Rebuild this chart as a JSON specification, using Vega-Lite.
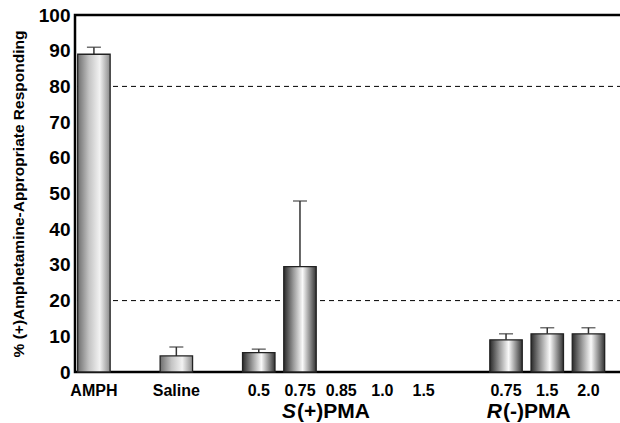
{
  "$schema": "https://vega.github.io/schema/vega-lite/v6.json",
  "autosize": "none",
  "width": 547,
  "height": 357,
  "padding": {"left": 75, "top": 15, "right": 0, "bottom": 51},
  "background": "white",
  "config": {
    "view": {"stroke": "black", "strokeWidth": 2.5},
    "font": "Liberation Sans"
  },
  "datasets": {
    "bars": [
      {"key": "AMPH", "value": 89, "upper": 91},
      {"key": "Saline", "value": 4.5, "upper": 7},
      {"key": "S0.5", "value": 5.4, "upper": 6.4},
      {"key": "S0.75", "value": 29.5, "upper": 47.9},
      {"key": "S0.85", "value": 0, "upper": null},
      {"key": "S1.0", "value": 0, "upper": null},
      {"key": "S1.5", "value": 0, "upper": null},
      {"key": "R0.75", "value": 9.0, "upper": 10.7},
      {"key": "R1.5", "value": 10.7, "upper": 12.4},
      {"key": "R2.0", "value": 10.7, "upper": 12.4}
    ],
    "refs": [{"ref": 20}, {"ref": 80}],
    "groups": [
      {"key": "S0.75", "part": "S", "rest": "(+)PMA"},
      {"key": "R0.75", "part": "R", "rest": "(-)PMA"}
    ]
  },
  "encoding": {
    "x": {
      "field": "key",
      "type": "nominal",
      "scale": {
        "domain": ["AMPH", "g1", "Saline", "g2", "S0.5", "S0.75", "S0.85", "S1.0", "S1.5", "g3", "R0.75", "R1.5", "R2.0"],
        "paddingInner": 0.213,
        "paddingOuter": 0.243,
        "align": 0.135
      },
      "axis": {
        "title": null,
        "domain": false,
        "ticks": false,
        "labelAngle": 0,
        "labelFont": "Liberation Sans",
        "labelFontWeight": "bold",
        "labelFontSize": 16,
        "labelColor": "black",
        "labelPadding": 10,
        "labelOverlap": false,
        "labelExpr": "substring(datum.value,0,1)=='g' ? '' : (datum.value=='AMPH' || datum.value=='Saline' ? datum.value : substring(datum.value,1))"
      }
    }
  },
  "layer": [
    {
      "data": {"name": "refs"},
      "mark": {"type": "rule", "color": "black", "strokeWidth": 1, "strokeDash": [5, 4]},
      "encoding": {
        "x": null,
        "y": {
          "field": "ref",
          "type": "quantitative",
          "scale": {"domain": [0, 100], "nice": false},
          "axis": {
            "title": "% (+)Amphetamine-Appropriate Responding",
            "titleFont": "Liberation Sans",
            "titleFontSize": 15.5,
            "titleFontWeight": "bold",
            "titleColor": "black",
            "titlePadding": 12,
            "values": [0, 10, 20, 30, 40, 50, 60, 70, 80, 90, 100],
            "tickCount": 11,
            "labelOverlap": false,
            "domain": false,
            "ticks": false,
            "grid": false,
            "labelFont": "Liberation Sans",
            "labelFontWeight": "bold",
            "labelFontSize": 19,
            "labelColor": "black",
            "labelPadding": 5
          }
        }
      }
    },
    {
      "data": {"name": "bars"},
      "transform": [{"filter": "datum.upper != null"}],
      "mark": {"type": "rule", "color": "#333", "strokeWidth": 1.5},
      "encoding": {
        "y": {"field": "value", "type": "quantitative"},
        "y2": {"field": "upper"}
      }
    },
    {
      "data": {"name": "bars"},
      "transform": [{"filter": "datum.upper != null"}],
      "mark": {"type": "tick", "color": "#333", "thickness": 1.5, "size": 14, "orient": "horizontal"},
      "encoding": {
        "y": {"field": "upper", "type": "quantitative"}
      }
    },
    {
      "data": {"name": "bars"},
      "transform": [{"filter": "(datum.key=='AMPH' || datum.key=='Saline') && datum.value > 0"}],
      "mark": {
        "type": "bar",
        "stroke": "#222",
        "strokeWidth": 1.3,
        "fill": {
          "gradient": "linear", "x1": 0, "y1": 0, "x2": 1, "y2": 0,
          "stops": [
            {"offset": 0, "color": "#6e6e6e"},
            {"offset": 0.35, "color": "#c4c4c4"},
            {"offset": 0.68, "color": "#f2f2f2"},
            {"offset": 1, "color": "#8a8a8a"}
          ]
        }
      },
      "encoding": {
        "y": {"field": "value", "type": "quantitative"}
      }
    },
    {
      "data": {"name": "bars"},
      "transform": [{"filter": "datum.key!='AMPH' && datum.key!='Saline' && datum.value > 0"}],
      "mark": {
        "type": "bar",
        "stroke": "#222",
        "strokeWidth": 1.3,
        "fill": {
          "gradient": "linear", "x1": 0, "y1": 0, "x2": 1, "y2": 0,
          "stops": [
            {"offset": 0, "color": "#2a2a2a"},
            {"offset": 0.3, "color": "#9a9a9a"},
            {"offset": 0.58, "color": "#fafafa"},
            {"offset": 1, "color": "#333333"}
          ]
        }
      },
      "encoding": {
        "y": {"field": "value", "type": "quantitative"}
      }
    },
    {
      "data": {"name": "groups"},
      "mark": {"type": "text", "align": "right", "baseline": "middle", "dx": -4, "dy": 40, "font": "Liberation Sans", "fontSize": 21, "fontWeight": "bold", "fontStyle": "italic", "color": "black"},
      "encoding": {
        "y": {"datum": 0, "type": "quantitative"},
        "text": {"field": "part"}
      }
    },
    {
      "data": {"name": "groups"},
      "mark": {"type": "text", "align": "left", "baseline": "middle", "dx": -3, "dy": 40, "font": "Liberation Sans", "fontSize": 21, "fontWeight": "bold", "color": "black"},
      "encoding": {
        "y": {"datum": 0, "type": "quantitative"},
        "text": {"field": "rest"}
      }
    }
  ]
}
